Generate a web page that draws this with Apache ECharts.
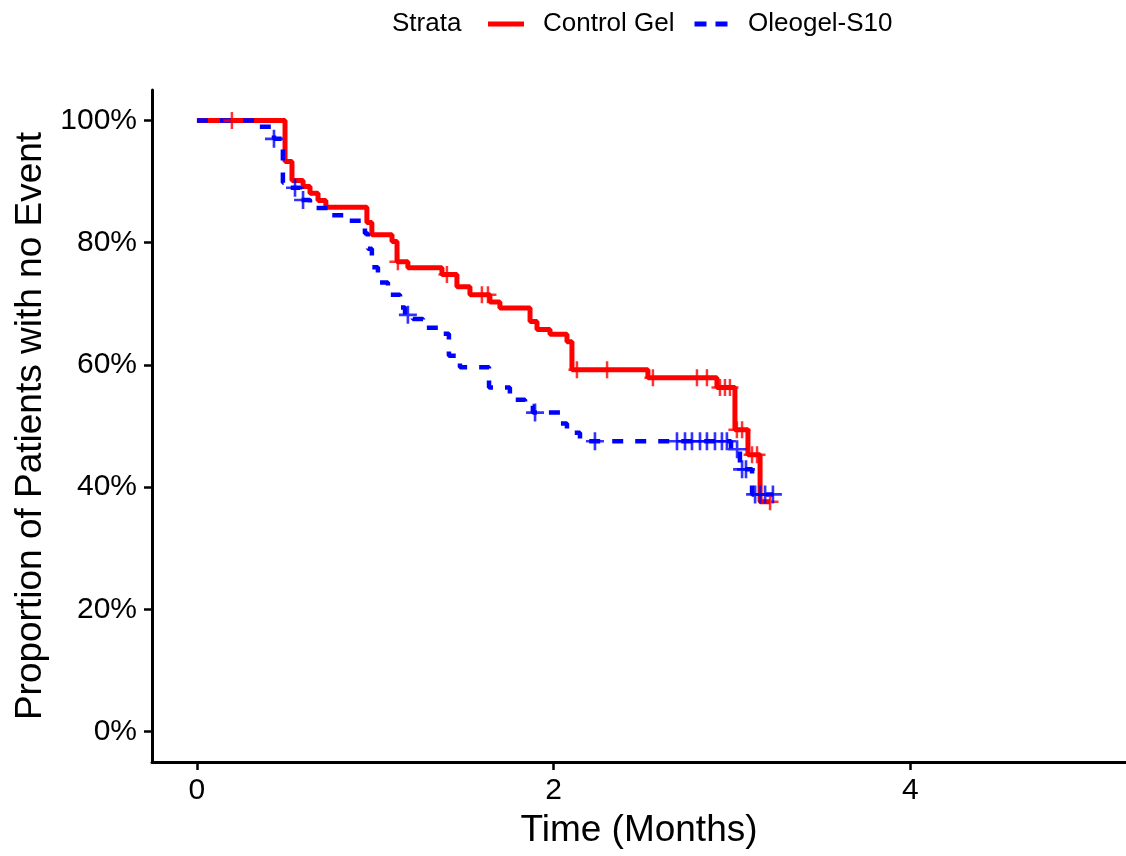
<!DOCTYPE html>
<html>
<head>
<meta charset="utf-8">
<script src="https://cdn.jsdelivr.net/npm/echarts@6/dist/echarts.min.js"></script>
<style>
  html, body { margin: 0; padding: 0; background: #fff; }
  #chart { width: 1126px; height: 856px; }
</style>
</head>
<body>
<div id="chart"></div>
<script>
// Kaplan-Meier steps (time in months, survival in %)
const redTime = [0, 0.494, 0.533, 0.595, 0.634, 0.679, 0.723, 0.953, 0.981, 1.094, 1.122, 1.183, 1.374, 1.458, 1.531, 1.643, 1.699, 1.868, 1.907, 1.980, 2.075, 2.103, 2.529, 2.916, 3.017, 3.090, 3.158, 3.214]
const redSurv = [100, 93.3, 90.2, 89.2, 88.1, 86.9, 85.8, 83.3, 81.3, 80.2, 76.9, 75.9, 74.8, 72.8, 71.5, 70.3, 69.3, 67.1, 65.8, 65.0, 63.8, 59.2, 57.9, 56.3, 49.4, 45.3, 37.6, 37.6]
const redCensorTime = [0.196, 1.127, 1.402, 1.598, 1.632, 2.131, 2.300, 2.557, 2.804, 2.860, 2.933, 2.961, 2.989, 3.028, 3.057, 3.113, 3.141, 3.214]
const redCensorSurv = [100, 76.9, 74.8, 71.5, 71.5, 59.2, 59.2, 57.9, 57.9, 57.9, 56.3, 56.3, 56.3, 49.4, 49.4, 45.3, 45.3, 37.6]

const blueTime = [0, 0.337, 0.432, 0.482, 0.522, 0.578, 0.634, 0.746, 0.830, 0.942, 0.959, 0.981, 1.015, 1.071, 1.139, 1.167, 1.211, 1.268, 1.363, 1.413, 1.475, 1.638, 1.755, 1.840, 1.884, 2.036, 2.075, 2.148, 2.995, 3.045, 3.113, 3.230]
const blueSurv = [100, 99.0, 97.0, 89.8, 89.0, 87.0, 85.7, 84.5, 83.6, 81.5, 79.0, 76.0, 73.5, 71.5, 69.4, 68.2, 67.5, 66.1, 65.1, 61.5, 59.6, 56.3, 54.3, 53.3, 52.2, 50.4, 48.9, 47.5, 46.2, 42.9, 38.8, 38.8]
const blueCensorTime = [0.432, 0.550, 0.595, 1.183, 1.896, 2.232, 2.692, 2.737, 2.776, 2.821, 2.860, 2.905, 2.944, 2.972, 3.029, 3.057, 3.079, 3.130, 3.158, 3.186, 3.230]
const blueCensorSurv = [97.0, 89.0, 87.0, 68.2, 52.2, 47.5, 47.5, 47.5, 47.5, 47.5, 47.5, 47.5, 47.5, 47.5, 46.2, 42.9, 42.9, 38.8, 38.8, 38.8, 38.8]

const xTicks = [0, 2, 4]
const yTicks = [0, 20, 40, 60, 80, 100]

const zip = (a, b) => a.map((v, i) => [v, b[i]])
const plus = 'path://M7,0h2.4v7h7v2.4h-7v7h-2.4v-7h-7v-2.4h7z'
const font = 'Liberation Sans, Arial, Helvetica, sans-serif'

const chart = echarts.init(document.getElementById('chart'), null, { renderer: 'canvas' })
chart.setOption({
    animation: false,
    backgroundColor: '#fff',
    textStyle: { fontFamily: font },
    title: {
        text: 'Strata',
        left: 387,
        top: 6,
        textStyle: { fontSize: 26, fontWeight: 'normal', color: '#000', fontFamily: font },
    },
    legend: {
        left: 483,
        top: 6,
        itemWidth: 36,
        itemHeight: 5,
        itemGap: 20,
        textStyle: { fontSize: 26, color: '#000', padding: [0, 0, 0, 14], fontFamily: font },
        data: [
            { name: 'Control Gel', icon: 'rect' },
            { name: 'Oleogel-S10', icon: 'path://M0,0h12v5h-12z M21,0h12v5h-12z' },
        ],
    },
    grid: { left: 152, right: 0, top: 90, bottom: 94 },
    xAxis: {
        type: 'value',
        min: -0.252,
        max: 5.21,
        name: 'Time (Months)',
        nameLocation: 'middle',
        nameGap: 50,
        nameTextStyle: { fontSize: 37, color: '#000', fontFamily: font },
        axisLine: { show: true, onZero: false, lineStyle: { color: '#000', width: 3 } },
        axisTick: { show: true, customValues: xTicks, length: 8, lineStyle: { color: '#000', width: 2.5 } },
        axisLabel: { customValues: xTicks, fontSize: 30, color: '#000', margin: 14, fontFamily: font },
        splitLine: { show: false },
    },
    yAxis: {
        type: 'value',
        min: -5,
        max: 105,
        name: 'Proportion of Patients with no Event',
        nameLocation: 'middle',
        nameGap: 100,
        nameTextStyle: { fontSize: 37, color: '#000', fontFamily: font },
        axisLine: { show: true, onZero: false, lineStyle: { color: '#000', width: 3 } },
        axisTick: { show: true, customValues: yTicks, length: 8, lineStyle: { color: '#000', width: 2.5 } },
        axisLabel: { customValues: yTicks, fontSize: 30, color: '#000', margin: 15, formatter: '{value}%', fontFamily: font },
        splitLine: { show: false },
    },
    series: [
        {
            name: 'Control Gel',
            type: 'line',
            step: 'end',
            color: '#ff0000',
            showSymbol: false,
            lineStyle: { color: '#ff0000', width: 5 },
            data: zip(redTime, redSurv),
            z: 2,
        },
        {
            name: 'Oleogel-S10',
            type: 'line',
            step: 'end',
            color: '#0000ff',
            showSymbol: false,
            lineStyle: { color: '#0000ff', width: 4.5, type: [11, 12] },
            data: zip(blueTime, blueSurv),
            z: 3,
        },
        {
            name: 'Control Gel censored',
            type: 'scatter',
            symbol: plus,
            symbolSize: 17,
            itemStyle: { color: '#ff0000' },
            data: zip(redCensorTime, redCensorSurv),
            z: 4,
        },
        {
            name: 'Oleogel-S10 censored',
            type: 'scatter',
            symbol: plus,
            symbolSize: 18,
            itemStyle: { color: '#0000ff' },
            data: zip(blueCensorTime, blueCensorSurv),
            z: 5,
        },
    ],
})
</script>
</body>
</html>
